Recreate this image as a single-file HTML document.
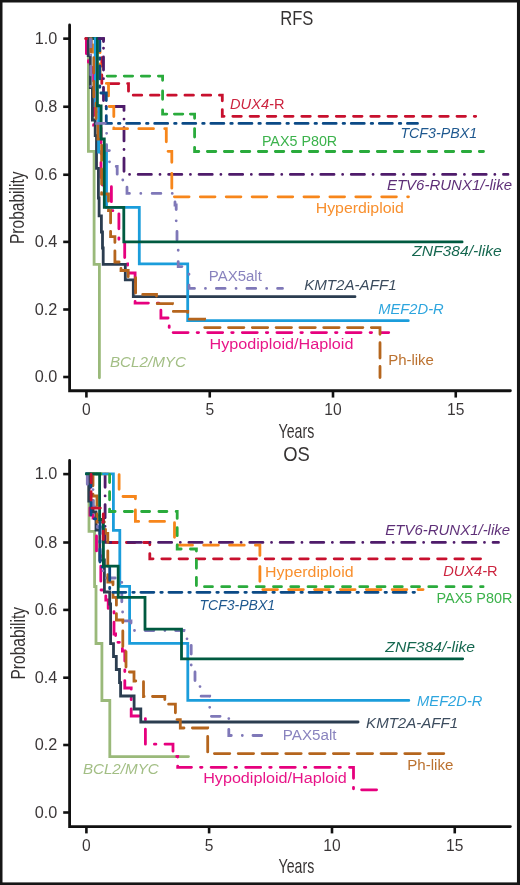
<!DOCTYPE html>
<html><head><meta charset="utf-8"><style>
html,body{margin:0;padding:0;background:#fff;}
body{width:520px;height:885px;overflow:hidden;}
svg{display:block;will-change:transform;}
text{font-family:"Liberation Sans", sans-serif;}
</style></head><body>
<svg width="520" height="885" viewBox="0 0 520 885">
<rect x="0" y="0" width="520" height="885" fill="#fff"/>

<text x="280.2" y="25.2" font-size="20.2" fill="#231f20" fill-opacity="0.92" textLength="33.2" lengthAdjust="spacingAndGlyphs">RFS</text>
<text x="283.2" y="461" font-size="20.2" fill="#231f20" fill-opacity="0.92" textLength="26.6" lengthAdjust="spacingAndGlyphs">OS</text>
<text transform="translate(23.8,244) rotate(-90)" font-size="20.8" fill="#231f20" fill-opacity="0.92" textLength="72.5" lengthAdjust="spacingAndGlyphs">Probability</text>
<text transform="translate(24.9,679.5) rotate(-90)" font-size="20.8" fill="#231f20" fill-opacity="0.92" textLength="72.5" lengthAdjust="spacingAndGlyphs">Probability</text>
<text x="278.6" y="438.4" font-size="20.4" fill="#231f20" fill-opacity="0.92" textLength="35.6" lengthAdjust="spacingAndGlyphs">Years</text>
<text x="278.6" y="872.9" font-size="20.4" fill="#231f20" fill-opacity="0.92" textLength="35.6" lengthAdjust="spacingAndGlyphs">Years</text>
<path d="M69.6,25.0 V390.75 H510.4" stroke="#111" stroke-width="2.8" fill="none" stroke-linejoin="miter" stroke-linecap="round"/>
<path d="M63.2,38.65 H69.6" stroke="#111" stroke-width="2.6"/>
<text x="57.3" y="43.6" font-size="15.8" fill="#231f20" fill-opacity="0.9" text-anchor="end" textLength="22.6" lengthAdjust="spacingAndGlyphs">1.0</text>
<path d="M63.2,106.75 H69.6" stroke="#111" stroke-width="2.6"/>
<text x="57.3" y="111.8" font-size="15.8" fill="#231f20" fill-opacity="0.9" text-anchor="end" textLength="22.6" lengthAdjust="spacingAndGlyphs">0.8</text>
<path d="M63.2,174.75 H69.6" stroke="#111" stroke-width="2.6"/>
<text x="57.3" y="179.8" font-size="15.8" fill="#231f20" fill-opacity="0.9" text-anchor="end" textLength="22.6" lengthAdjust="spacingAndGlyphs">0.6</text>
<path d="M63.2,241.9 H69.6" stroke="#111" stroke-width="2.6"/>
<text x="57.3" y="246.9" font-size="15.8" fill="#231f20" fill-opacity="0.9" text-anchor="end" textLength="22.6" lengthAdjust="spacingAndGlyphs">0.4</text>
<path d="M63.2,309.5 H69.6" stroke="#111" stroke-width="2.6"/>
<text x="57.3" y="314.5" font-size="15.8" fill="#231f20" fill-opacity="0.9" text-anchor="end" textLength="22.6" lengthAdjust="spacingAndGlyphs">0.2</text>
<path d="M63.2,377.0 H69.6" stroke="#111" stroke-width="2.6"/>
<text x="57.3" y="382.0" font-size="15.8" fill="#231f20" fill-opacity="0.9" text-anchor="end" textLength="22.6" lengthAdjust="spacingAndGlyphs">0.0</text>
<path d="M86.4,390.75 V397.55" stroke="#111" stroke-width="2.6"/>
<text x="86.4" y="414.6" font-size="15.6" fill="#231f20" fill-opacity="0.9" text-anchor="middle">0</text>
<path d="M209.75,390.75 V397.55" stroke="#111" stroke-width="2.6"/>
<text x="209.75" y="414.6" font-size="15.6" fill="#231f20" fill-opacity="0.9" text-anchor="middle">5</text>
<path d="M333.0,390.75 V397.55" stroke="#111" stroke-width="2.6"/>
<text x="333.0" y="414.6" font-size="15.6" fill="#231f20" fill-opacity="0.9" text-anchor="middle">10</text>
<path d="M455.75,390.75 V397.55" stroke="#111" stroke-width="2.6"/>
<text x="455.75" y="414.6" font-size="15.6" fill="#231f20" fill-opacity="0.9" text-anchor="middle">15</text>
<path d="M69.6,460.5 V826.6 H510.4" stroke="#111" stroke-width="2.8" fill="none" stroke-linejoin="miter" stroke-linecap="round"/>
<path d="M63.2,474.1 H69.6" stroke="#111" stroke-width="2.6"/>
<text x="57.3" y="479.1" font-size="15.8" fill="#231f20" fill-opacity="0.9" text-anchor="end" textLength="22.6" lengthAdjust="spacingAndGlyphs">1.0</text>
<path d="M63.2,542.5 H69.6" stroke="#111" stroke-width="2.6"/>
<text x="57.3" y="547.5" font-size="15.8" fill="#231f20" fill-opacity="0.9" text-anchor="end" textLength="22.6" lengthAdjust="spacingAndGlyphs">0.8</text>
<path d="M63.2,609.9 H69.6" stroke="#111" stroke-width="2.6"/>
<text x="57.3" y="614.9" font-size="15.8" fill="#231f20" fill-opacity="0.9" text-anchor="end" textLength="22.6" lengthAdjust="spacingAndGlyphs">0.6</text>
<path d="M63.2,677.7 H69.6" stroke="#111" stroke-width="2.6"/>
<text x="57.3" y="682.7" font-size="15.8" fill="#231f20" fill-opacity="0.9" text-anchor="end" textLength="22.6" lengthAdjust="spacingAndGlyphs">0.4</text>
<path d="M63.2,745.0 H69.6" stroke="#111" stroke-width="2.6"/>
<text x="57.3" y="750.0" font-size="15.8" fill="#231f20" fill-opacity="0.9" text-anchor="end" textLength="22.6" lengthAdjust="spacingAndGlyphs">0.2</text>
<path d="M63.2,812.5 H69.6" stroke="#111" stroke-width="2.6"/>
<text x="57.3" y="817.5" font-size="15.8" fill="#231f20" fill-opacity="0.9" text-anchor="end" textLength="22.6" lengthAdjust="spacingAndGlyphs">0.0</text>
<path d="M86.4,826.6 V833.4" stroke="#111" stroke-width="2.6"/>
<text x="86.4" y="850.6" font-size="15.6" fill="#231f20" fill-opacity="0.9" text-anchor="middle">0</text>
<path d="M209.1,826.6 V833.4" stroke="#111" stroke-width="2.6"/>
<text x="209.1" y="850.6" font-size="15.6" fill="#231f20" fill-opacity="0.9" text-anchor="middle">5</text>
<path d="M332.0,826.6 V833.4" stroke="#111" stroke-width="2.6"/>
<text x="332.0" y="850.6" font-size="15.6" fill="#231f20" fill-opacity="0.9" text-anchor="middle">10</text>
<path d="M454.75,826.6 V833.4" stroke="#111" stroke-width="2.6"/>
<text x="454.75" y="850.6" font-size="15.6" fill="#231f20" fill-opacity="0.9" text-anchor="middle">15</text>
<g fill="none" stroke-width="2.8" stroke-linejoin="miter">
<path d="M86.4,38.7 H88.4" stroke="#9ab97a" stroke-linecap="round"/>
<path d="M86.40,38.70L94.77,38.70" stroke="#c8102e" stroke-linecap="round"/>
<path d="M91.24,38.70L103.50,38.70" stroke="#4f1c6b" stroke-linecap="round"/>
<path d="M86.40,38.70L88.01,38.70" stroke="#f7861b" stroke-linecap="round"/>
<path d="M86.4,38.7 H88.2" stroke="#2b3d50" stroke-linecap="round"/>
<path d="M86.4,38.7 H95.2" stroke="#1b9ddb" stroke-linecap="round"/>
<path d="M86.92,38.70L90.80,38.70" stroke="#7f78b8" stroke-linecap="round"/>
<path d="M89.00,38.70L91.20,38.70" stroke="#b5651d" stroke-linecap="round"/>
<path d="M90.81,38.70L92.31,38.70M98.98,38.70L99.80,38.70" stroke="#0b4a86" stroke-linecap="round"/>
<path d="M86.4,38.7 H97.4" stroke="#005a40" stroke-linecap="round"/>
<path d="M88.4,38.70 L88.4,151.3 L94.1,151.3 L94.1,264.3 L99.4,264.3 L99.4,377.8" stroke="#9ab97a" stroke-linecap="round"/>
<path d="M101.80,57.66L101.80,66.16M101.80,74.90L101.80,83.40M110.34,83.60L118.84,83.60M127.59,83.60L128.50,83.60L128.50,91.19M133.23,95.20L141.73,95.20M150.47,95.20L158.97,95.20M167.71,95.20L176.21,95.20M184.96,95.20L193.46,95.20M202.20,95.20L210.70,95.20M219.44,95.20L222.30,95.20L222.30,100.84M222.30,109.59L222.30,116.30L224.09,116.30M232.83,116.30L241.33,116.30M250.07,116.30L258.57,116.30M267.32,116.30L275.82,116.30M284.56,116.30L293.06,116.30M301.80,116.30L310.30,116.30M319.04,116.30L327.54,116.30M336.29,116.30L344.79,116.30M353.53,116.30L362.03,116.30M370.77,116.30L379.27,116.30M388.02,116.30L396.52,116.30M405.26,116.30L413.76,116.30M422.50,116.30L431.00,116.30M439.75,116.30L448.25,116.30M456.99,116.30L465.49,116.30M474.23,116.30L475.70,116.30" stroke="#c8102e" stroke-linecap="round"/>
<path d="M103.50,38.70L103.50,39.64M103.50,48.26h0.01M103.50,56.88L103.50,70.08M103.50,78.70h0.01M103.50,87.32L103.50,100.52M106.14,106.50h0.01M114.76,106.50L124.00,106.50L124.00,110.46M124.00,119.08h0.01M124.00,127.70L124.00,140.90M124.00,149.52h0.01M124.00,158.14L124.00,171.34M129.56,174.40h0.01M138.18,174.40L151.38,174.40M160.00,174.40h0.01M168.62,174.40L181.82,174.40M190.44,174.40h0.01M199.06,174.40L212.26,174.40M220.88,174.40h0.01M229.50,174.40L242.70,174.40M251.32,174.40h0.01M259.94,174.40L273.14,174.40M281.76,174.40h0.01M290.38,174.40L303.58,174.40M312.20,174.40h0.01M320.82,174.40L334.02,174.40M342.64,174.40h0.01M351.26,174.40L364.46,174.40M373.08,174.40h0.01M381.70,174.40L394.90,174.40M403.52,174.40h0.01M412.14,174.40L425.34,174.40M433.96,174.40h0.01M442.58,174.40L455.78,174.40M464.40,174.40h0.01M473.02,174.40L486.22,174.40M494.84,174.40h0.01M503.46,174.40L508.00,174.40" stroke="#4f1c6b" stroke-linecap="round"/>
<path d="M93.00,44.93L93.00,52.00L100.00,52.00L100.00,52.63M100.00,63.84L100.00,78.54M106.36,83.40L108.50,83.40L108.50,95.96M109.18,106.50L113.80,106.50L113.80,116.58M113.80,127.80L113.80,128.70L127.60,128.70M138.81,128.70L153.51,128.70M164.73,128.70L166.30,128.70L166.30,141.83M168.05,151.30L171.80,151.30L171.80,162.25M171.80,173.46L171.80,188.16M174.38,196.80L189.08,196.80M200.30,196.80L215.00,196.80M226.21,196.80L240.91,196.80M252.13,196.80L266.83,196.80M278.05,196.80L292.75,196.80M303.97,196.80L318.67,196.80M329.88,196.80L344.58,196.80M355.80,196.80L370.50,196.80M381.72,196.80L396.42,196.80M407.63,196.80L408.50,196.80" stroke="#f7861b" stroke-linecap="round"/>
<path d="M86.40,38.70L86.40,53.70M88.40,60.70L88.40,62.20M92.40,67.30L92.40,72.00L93.60,72.00L93.60,81.10M93.60,90.10L93.60,91.60M93.60,100.70L93.60,115.70M93.60,124.70L93.60,125.00L94.80,125.00M101.00,127.90L101.00,142.90M101.00,151.90L101.00,153.40M101.00,162.50L101.00,177.50M102.50,185.00L104.00,185.00M111.40,186.70L111.40,201.70M111.40,210.70L112.90,210.70M118.90,213.80L118.90,228.80M118.90,237.80L118.90,239.30M124.70,242.60L124.70,257.60M127.30,264.00L127.60,264.00L127.60,265.20M128.90,273.00L135.10,273.00L135.10,281.80M135.10,290.80L135.10,292.30M135.10,301.40L135.10,303.10L148.40,303.10M157.40,303.10L158.90,303.10M160.90,310.20L160.90,318.00L168.10,318.00M169.20,325.90L169.20,327.40M173.10,332.60L188.10,332.60M197.10,332.60L198.60,332.60M207.70,332.60L222.70,332.60M231.70,332.60L233.20,332.60M242.30,332.60L257.30,332.60M266.30,332.60L267.80,332.60M276.90,332.60L291.90,332.60M300.90,332.60L302.40,332.60M311.50,332.60L326.50,332.60M335.50,332.60L337.00,332.60M346.10,332.60L361.10,332.60M370.10,332.60L371.60,332.60M380.70,332.60L388.75,332.60" stroke="#e6007e" stroke-linecap="round"/>
<path d="M88.2,38.70 L88.2,55.5 L90.3,55.5 L90.3,87.5 L92.4,87.5 L92.4,120.0 L95.2,120.0 L95.2,135.7 L96.5,135.7 L96.5,168.4 L98.4,168.4 L98.4,198.0 L99.1,198.0 L99.1,215.8 L101.4,215.8 L101.4,232.0 L102.5,232.0 L102.5,248.0 L103.2,248.0 L103.2,264.3 L125.3,264.3 L125.3,279.9 L133.3,279.9 L133.3,296.7 L355.0,296.7" stroke="#2b3d50" stroke-linecap="round"/>
<path d="M95.2,38.70 L95.2,105.5 L98.6,105.5 L98.6,152.0 L106.5,152.0 L106.5,207.3 L139.3,207.3 L139.3,263.8 L187.7,263.8 L187.7,320.7 L408.3,320.7" stroke="#1b9ddb" stroke-linecap="round"/>
<path d="M107.18,76.10L115.58,76.10M124.25,76.10L132.65,76.10M141.32,76.10L149.73,76.10M158.40,76.10L162.60,76.10L162.60,80.30M162.60,90.90L162.60,99.30M162.60,109.90L162.60,114.10L166.80,114.10M174.40,114.10L182.80,114.10M190.40,114.10L194.60,114.10L194.60,118.30M194.60,128.60L194.60,137.00M194.60,147.30L194.60,151.50L198.80,151.50M207.39,151.50L215.79,151.50M224.39,151.50L232.79,151.50M241.38,151.50L249.78,151.50M258.38,151.50L266.78,151.50M275.37,151.50L283.77,151.50M292.36,151.50L300.76,151.50M309.36,151.50L317.76,151.50M326.35,151.50L334.75,151.50M343.35,151.50L351.75,151.50M360.34,151.50L368.74,151.50M377.34,151.50L385.74,151.50M394.33,151.50L402.73,151.50M411.32,151.50L419.72,151.50M428.32,151.50L436.72,151.50M445.31,151.50L453.71,151.50M462.31,151.50L470.71,151.50M479.30,151.50L483.50,151.50" stroke="#2aab3c" stroke-linecap="round"/>
<path d="M90.80,38.70L90.80,43.52M90.80,54.88h0.01M90.80,66.24L90.80,74.94M90.80,86.30h0.01M96.60,91.86L96.60,100.56M96.60,111.92h0.01M106.60,133.34h0.01M106.60,144.70L106.60,150.60L109.40,150.60M109.50,161.86h0.01M116.22,166.50L117.20,166.50L117.20,174.22M122.78,180.00h0.01M127.00,187.14L127.00,193.40L129.44,193.40M140.80,193.40h0.01M152.16,193.40L160.86,193.40M172.22,193.40h0.01M175.00,201.98L175.00,205.00L176.20,205.00L176.20,209.48M176.20,220.84h0.01M177.00,231.40L177.00,240.10M178.20,250.26h0.01M178.20,261.62L178.20,266.60L181.92,266.60M189.00,274.25h0.01M189.00,285.20L189.00,288.40L194.50,288.40M205.45,288.40h0.01M216.40,288.40L225.10,288.40M236.05,288.40h0.01M247.00,288.40L255.70,288.40M266.65,288.40h0.01M277.60,288.40L282.50,288.40" stroke="#7f78b8" stroke-linecap="round"/>
<path d="M91.20,38.70L91.20,51.90M93.80,57.70L93.80,73.10M93.80,81.50L93.80,96.90M96.00,103.10L96.00,118.50M98.00,124.90L98.00,139.00L99.30,139.00M101.60,145.10L101.60,160.50M101.60,168.90L101.60,184.30M101.60,192.70L101.60,194.00L108.50,194.00L108.50,201.20M108.50,209.60L108.50,210.70L110.60,210.70L110.60,222.90M110.60,231.30L110.60,236.60L114.90,236.60L114.90,242.40M114.90,250.80L114.90,262.00L119.10,262.00M121.00,268.50L121.00,270.50L128.20,270.50L128.20,276.70M135.60,277.70L135.60,293.10M142.70,294.40L156.50,294.40L156.50,296.00M157.20,303.70L172.50,303.70L172.50,303.80M173.30,311.40L187.70,311.40L187.70,312.40M189.30,319.20L204.60,319.20L204.60,319.30M204.70,327.60L220.10,327.60M228.50,327.60L243.90,327.60M252.30,327.60L267.70,327.60M276.10,327.60L291.50,327.60M299.90,327.60L315.30,327.60M323.70,327.60L339.10,327.60M347.50,327.60L362.90,327.60M371.30,327.60L380.00,327.60L380.00,334.30M380.00,342.70L380.00,358.10M380.00,366.50L380.00,377.50" stroke="#b5651d" stroke-linecap="round"/>
<path d="M99.80,38.70L99.80,50.88M99.80,57.79L99.80,59.29M99.80,65.96L99.80,78.96M99.80,85.87L99.80,87.37M100.85,93.00L106.30,93.00L106.30,100.55M106.30,107.46L106.30,108.96M106.30,115.63L106.30,123.40L111.53,123.40M118.44,123.40L119.94,123.40M126.61,123.40L139.61,123.40M146.52,123.40L148.02,123.40M154.69,123.40L167.69,123.40M174.60,123.40L176.10,123.40M182.77,123.40L195.77,123.40M202.68,123.40L204.18,123.40M210.86,123.40L223.86,123.40M230.77,123.40L232.27,123.40M238.94,123.40L251.94,123.40M258.85,123.40L260.35,123.40M267.02,123.40L280.02,123.40M286.93,123.40L288.43,123.40M295.10,123.40L308.10,123.40M315.01,123.40L316.51,123.40M323.18,123.40L336.18,123.40M343.09,123.40L344.59,123.40M351.27,123.40L364.27,123.40M371.18,123.40L372.68,123.40M379.35,123.40L392.35,123.40M399.26,123.40L400.76,123.40M407.43,123.40L417.50,123.40" stroke="#0b4a86" stroke-linecap="round"/>
<path d="M97.4,38.70 L97.4,105.8 L101.1,105.8 L101.1,139.0 L104.3,139.0 L104.3,207.3 L123.8,207.3 L123.8,241.9 L462.1,241.9" stroke="#005a40" stroke-linecap="round"/>
<path d="M86.4,473.9 H89 V531.3 H94.6 V586.5 H96 V643.5 H101.9 V700.5 H109.8 V756.6 H188.5" stroke="#9ab97a" stroke-linecap="round"/>
<path d="M109.16,542.50L117.66,542.50M126.40,542.50L134.90,542.50M143.63,542.50L149.80,542.50L149.80,544.83M149.80,553.57L149.80,558.80L153.07,558.80M161.81,558.80L170.31,558.80M179.05,558.80L187.55,558.80M196.29,558.80L204.79,558.80M213.52,558.80L222.02,558.80M230.76,558.80L239.26,558.80M248.00,558.80L256.50,558.80M265.24,558.80L273.74,558.80M282.48,558.80L290.98,558.80M299.71,558.80L308.21,558.80M316.95,558.80L325.45,558.80M334.19,558.80L342.69,558.80M351.43,558.80L359.93,558.80M368.67,558.80L377.17,558.80M385.90,558.80L394.40,558.80M403.14,558.80L411.64,558.80M420.38,558.80L428.88,558.80M437.62,558.80L446.12,558.80M454.86,558.80L463.36,558.80M472.09,558.80L480.59,558.80" stroke="#c8102e" stroke-linecap="round"/>
<path d="M86.40,473.90L88.11,473.90M96.72,473.90h0.01M105.10,474.13L105.10,487.33M105.10,495.93h0.01M105.10,504.54L105.10,517.74M105.10,526.35h0.01M105.10,534.96L105.10,542.40L110.86,542.40M119.47,542.40h0.01M128.07,542.40L141.27,542.40M149.88,542.40h0.01M158.49,542.40L171.69,542.40M180.30,542.40h0.01M188.91,542.40L202.11,542.40M210.71,542.40h0.01M219.32,542.40L232.52,542.40M241.13,542.40h0.01M249.74,542.40L262.94,542.40M271.55,542.40h0.01M280.15,542.40L293.35,542.40M301.96,542.40h0.01M310.57,542.40L323.77,542.40M332.38,542.40h0.01M340.99,542.40L354.19,542.40M362.79,542.40h0.01M371.40,542.40L384.60,542.40M393.21,542.40h0.01M401.82,542.40L415.02,542.40M423.63,542.40h0.01M432.23,542.40L445.43,542.40M454.04,542.40h0.01M462.65,542.40L475.85,542.40M484.46,542.40h0.01M493.07,542.40L498.50,542.40" stroke="#4f1c6b" stroke-linecap="round"/>
<path d="M93.86,473.90L108.56,473.90M119.10,474.53L119.10,489.23M123.00,496.50L135.40,496.50L135.40,498.80M135.40,509.98L135.40,521.40L138.68,521.40M149.86,521.40L164.56,521.40M174.50,522.63L174.50,537.33M177.80,545.20L192.50,545.20M203.68,545.20L218.38,545.20M229.55,545.20L244.25,545.20M255.43,545.20L259.90,545.20L259.90,555.43M259.90,566.61L259.90,581.31M262.78,589.60L277.48,589.60M288.65,589.60L303.35,589.60M314.53,589.60L329.23,589.60M340.40,589.60L355.10,589.60M366.28,589.60L380.98,589.60M392.15,589.60L406.85,589.60M418.03,589.60L423.10,589.60" stroke="#f7861b" stroke-linecap="round"/>
<path d="M89.30,473.90L90.00,473.90L90.00,488.20M90.00,497.20L90.00,498.70M90.00,507.80L90.00,515.00L93.00,515.00L93.00,518.00L94.80,518.00M96.50,525.30L96.50,526.80M96.50,535.90L96.50,550.90M100.80,555.60L100.80,557.10M100.80,566.20L100.80,581.20M101.00,590.00L102.50,590.00M105.80,595.80L105.80,600.00L108.20,600.00L108.20,608.40M114.00,611.60L114.00,613.10M114.00,622.20L114.00,634.00L115.60,634.00L115.60,635.60M117.90,642.30L119.40,642.30M122.40,648.40L122.40,651.00L124.80,651.00L124.80,661.00M124.80,670.00L124.80,671.50M124.80,680.60L124.80,688.00L131.20,688.00L131.20,689.20M131.20,698.20L131.20,699.70M131.20,708.80L131.20,716.00L139.00,716.00M145.40,718.60L145.40,720.10M145.40,729.20L145.40,744.20M154.40,744.20L155.90,744.20M165.00,744.20L173.00,744.20L173.00,751.20M176.70,756.50L177.70,756.50L177.70,757.00M177.70,766.10L177.70,767.30L191.50,767.30M200.50,767.30L202.00,767.30M211.10,767.30L226.10,767.30M235.10,767.30L236.60,767.30M245.70,767.30L260.70,767.30M269.70,767.30L271.20,767.30M280.30,767.30L295.30,767.30M304.30,767.30L305.80,767.30M314.90,767.30L329.90,767.30M338.90,767.30L340.40,767.30M349.50,767.30L353.50,767.30L353.50,778.30M353.50,787.30L353.50,788.80M361.60,789.80L376.60,789.80" stroke="#e6007e" stroke-linecap="round"/>
<path d="M86.4,473.9 H88.8 V501 H93 V512 H96 V530 H99.8 V560 H104.4 V592 H109.7 V604 H110.6 V643.6 H113.5 V656.5 H116.3 V669.5 H119.5 V682.6 H120.6 V696 H134.1 V709 H140.8 V722 H358.1" stroke="#2b3d50" stroke-linecap="round"/>
<path d="M86.4,473.9 H113.4 V530.4 H119.8 V586.3 H129.6 V643.4 H187.8 V700.4 H408.8" stroke="#1b9ddb" stroke-linecap="round"/>
<path d="M92.97,473.90L100.97,473.90M109.60,474.52L109.60,482.52M109.60,491.77L109.60,499.77M109.60,509.03L109.60,511.50L115.13,511.50M124.38,511.50L132.38,511.50M141.64,511.50L149.64,511.50M158.90,511.50L166.90,511.50M176.15,511.50L177.20,511.50L177.20,518.45M177.20,527.71L177.20,535.71M177.20,544.96L177.20,549.00L181.16,549.00M190.42,549.00L196.40,549.00L196.40,551.01M196.40,560.27L196.40,568.27M196.40,577.52L196.40,585.52M204.48,586.70L212.48,586.70M221.73,586.70L229.73,586.70M238.99,586.70L246.99,586.70M256.25,586.70L264.25,586.70M273.50,586.70L281.50,586.70M290.75,586.70L298.75,586.70M308.01,586.70L316.01,586.70M325.26,586.70L333.26,586.70M342.52,586.70L350.52,586.70M359.77,586.70L367.77,586.70M377.03,586.70L385.03,586.70M394.29,586.70L402.28,586.70M411.54,586.70L419.54,586.70M428.79,586.70L436.79,586.70M446.05,586.70L454.05,586.70M463.30,586.70L471.30,586.70M480.56,586.70L483.10,586.70" stroke="#2aab3c" stroke-linecap="round"/>
<path d="M87.30,475.60L87.30,484.30M93.00,489.60h0.01M93.00,500.30L93.00,507.00L95.00,507.00M97.50,515.50h0.01M97.50,526.20L97.50,527.00L103.00,527.00L103.00,529.40M103.00,540.40h0.01M103.00,551.10L103.00,559.80M103.00,570.80h0.01M106.50,578.00L115.20,578.00M121.80,582.40h0.01M121.80,593.10L121.80,601.80M122.60,612.00h0.01M124.40,620.90L131.00,620.90L131.00,623.00M134.50,630.50h0.01M145.20,630.50L153.90,630.50M164.90,630.50h0.01M175.60,630.50L184.00,630.50L184.00,630.80M187.00,638.80h0.01M191.20,645.30L191.20,654.00M191.20,665.00h0.01M195.00,671.90L195.00,680.60M200.00,686.60h0.01M201.10,696.20L209.70,696.20L209.70,696.30M209.70,707.30h0.01M211.40,716.30L220.10,716.30M228.80,718.60h0.01M228.80,729.30L228.80,735.50L231.30,735.50M242.30,735.50h0.01M253.00,735.50L261.70,735.50" stroke="#7f78b8" stroke-linecap="round"/>
<path d="M89.50,473.90L93.00,473.90L93.00,485.80M93.00,494.20L93.00,496.00L97.00,496.00L97.00,505.60M97.00,514.00L97.00,522.00L104.40,522.00M105.50,529.30L105.50,533.30L107.80,533.30L107.80,542.40M107.80,550.80L107.80,566.20M107.80,574.60L107.80,582.00L113.00,582.00L113.00,584.80M113.00,593.20L113.00,597.30L116.40,597.30L116.40,605.20M116.40,613.60L116.40,620.00L122.80,620.00L122.80,622.60M122.80,631.00L122.80,646.40M126.00,651.60L126.00,667.00M129.40,672.00L134.00,672.00L134.00,681.00L135.80,681.00M143.50,681.70L143.50,696.50L144.10,696.50M152.50,696.50L164.80,696.50L164.80,699.60M168.60,704.20L175.40,704.20L175.40,712.80M177.00,719.60L180.30,719.60L180.30,728.00L184.00,728.00M192.40,728.00L207.70,728.00L207.70,728.10M207.70,736.50L207.70,751.90M214.40,753.60L229.80,753.60M238.20,753.60L253.60,753.60M262.00,753.60L277.40,753.60M285.80,753.60L301.20,753.60M309.60,753.60L325.00,753.60M333.40,753.60L348.80,753.60M357.20,753.60L372.60,753.60M381.00,753.60L396.40,753.60M404.80,753.60L420.20,753.60M428.60,753.60L443.80,753.60" stroke="#b5651d" stroke-linecap="round"/>
<path d="M91.00,474.03L91.00,487.03M91.00,493.94L91.00,495.44M91.00,502.06L91.00,515.06M94.16,518.80L95.66,518.80M100.00,521.09L100.00,534.09M100.00,540.99L100.00,542.49M100.00,549.11L100.00,562.11M102.01,567.00L103.51,567.00M109.70,567.43L109.70,580.43M109.70,587.33L109.70,588.83M112.86,592.30L125.86,592.30M132.76,592.30L134.26,592.30M140.88,592.30L153.88,592.30M160.79,592.30L162.29,592.30M168.91,592.30L181.91,592.30M188.81,592.30L190.31,592.30M196.94,592.30L209.94,592.30M216.84,592.30L218.34,592.30M224.96,592.30L237.96,592.30M244.86,592.30L246.36,592.30M252.99,592.30L265.99,592.30M272.88,592.30L274.38,592.30M281.01,592.30L294.01,592.30M300.91,592.30L302.41,592.30M309.04,592.30L322.04,592.30M328.94,592.30L330.44,592.30M337.06,592.30L350.06,592.30M356.96,592.30L358.46,592.30M365.09,592.30L378.09,592.30M384.99,592.30L386.49,592.30M393.11,592.30L406.11,592.30M413.01,592.30L414.51,592.30" stroke="#0b4a86" stroke-linecap="round"/>
<path d="M86.4,473.9 H99.6 V519.5 H103.4 V566.2 H118.2 V597.3 H145 V629.2 H181.5 V658.8 H462.7" stroke="#005a40" stroke-linecap="round"/>
<path d="M96.60,123.28L96.60,123.30L105.28,123.30" stroke="#7f78b8" stroke-linecap="round"/>
<path d="M91.10,474.37L91.10,482.87M91.10,491.61L91.10,500.11M91.84,508.10L100.34,508.10M103.30,513.88L103.30,522.38M103.30,531.12L103.30,539.62" stroke="#c8102e" stroke-linecap="round"/>
<path d="M85.6,38.7 H86.6" stroke="#c8102e" stroke-linecap="round"/>
<path d="M90.85,38.2 V48" stroke="#7f78b8" stroke-linecap="butt"/>
<path d="M98.9,38.7 H103.5 V41.6" stroke="#4f1c6b" stroke-linecap="round"/>
</g>
<text x="230.0" y="109.1" font-size="13.80" fill="#c8102e" fill-opacity="0.92" textLength="54.5" lengthAdjust="spacingAndGlyphs"><tspan font-style="italic">DUX4-</tspan><tspan font-style="normal">R</tspan></text>
<text x="400.4" y="138.3" font-size="13.80" fill="#0b4a86" fill-opacity="0.92" textLength="76.7" lengthAdjust="spacingAndGlyphs"><tspan font-style="italic">TCF3-PBX1</tspan></text>
<text x="261.9" y="146.3" font-size="14.63" fill="#2aab3c" fill-opacity="0.92" textLength="75.3" lengthAdjust="spacingAndGlyphs"><tspan font-style="normal">PAX5 P80R</tspan></text>
<text x="386.9" y="189.8" font-size="14.21" fill="#4f1c6b" fill-opacity="0.92" textLength="125.1" lengthAdjust="spacingAndGlyphs"><tspan font-style="italic">ETV6-RUNX1/-like</tspan></text>
<text x="315.7" y="212.5" font-size="14.42" fill="#f7861b" fill-opacity="0.92" textLength="88.2" lengthAdjust="spacingAndGlyphs"><tspan font-style="normal">Hyperdiploid</tspan></text>
<text x="412.2" y="256" font-size="14.21" fill="#005a40" fill-opacity="0.92" textLength="89.6" lengthAdjust="spacingAndGlyphs"><tspan font-style="italic">ZNF384/-like</tspan></text>
<text x="208.8" y="280.8" font-size="14.42" fill="#7f78b8" fill-opacity="0.92" textLength="53.0" lengthAdjust="spacingAndGlyphs"><tspan font-style="normal">PAX5alt</tspan></text>
<text x="304.2" y="290" font-size="14.42" fill="#2b3d50" fill-opacity="0.92" textLength="92.4" lengthAdjust="spacingAndGlyphs"><tspan font-style="italic">KMT2A-AFF1</tspan></text>
<text x="378.2" y="314.1" font-size="14.21" fill="#1b9ddb" fill-opacity="0.92" textLength="65.5" lengthAdjust="spacingAndGlyphs"><tspan font-style="italic">MEF2D-R</tspan></text>
<text x="209.5" y="348.5" font-size="14.42" fill="#e6007e" fill-opacity="0.92" textLength="143.9" lengthAdjust="spacingAndGlyphs"><tspan font-style="normal">Hypodiploid/Haploid</tspan></text>
<text x="388.15" y="364.5" font-size="14.42" fill="#b5651d" fill-opacity="0.92" textLength="45.8" lengthAdjust="spacingAndGlyphs"><tspan font-style="normal">Ph-like</tspan></text>
<text x="109.9" y="366.9" font-size="14.42" fill="#9ab97a" fill-opacity="0.92" textLength="76.1" lengthAdjust="spacingAndGlyphs"><tspan font-style="italic">BCL2/MYC</tspan></text>
<text x="385.29999999999995" y="534.9" font-size="14.21" fill="#4f1c6b" fill-opacity="0.92" textLength="124.8" lengthAdjust="spacingAndGlyphs"><tspan font-style="italic">ETV6-RUNX1/-like</tspan></text>
<text x="443.2" y="576" font-size="13.80" fill="#c8102e" fill-opacity="0.92" textLength="54.5" lengthAdjust="spacingAndGlyphs"><tspan font-style="italic">DUX4-</tspan><tspan font-style="normal">R</tspan></text>
<text x="265.09999999999997" y="577" font-size="14.42" fill="#f7861b" fill-opacity="0.92" textLength="88.5" lengthAdjust="spacingAndGlyphs"><tspan font-style="normal">Hyperdiploid</tspan></text>
<text x="436.5" y="602.9" font-size="14.63" fill="#2aab3c" fill-opacity="0.92" textLength="76.0" lengthAdjust="spacingAndGlyphs"><tspan font-style="normal">PAX5 P80R</tspan></text>
<text x="199.4" y="610.4" font-size="13.80" fill="#0b4a86" fill-opacity="0.92" textLength="75.8" lengthAdjust="spacingAndGlyphs"><tspan font-style="italic">TCF3-PBX1</tspan></text>
<text x="385.29999999999995" y="651.5" font-size="14.21" fill="#005a40" fill-opacity="0.92" textLength="89.8" lengthAdjust="spacingAndGlyphs"><tspan font-style="italic">ZNF384/-like</tspan></text>
<text x="417.09999999999997" y="705.9" font-size="14.21" fill="#1b9ddb" fill-opacity="0.92" textLength="65.3" lengthAdjust="spacingAndGlyphs"><tspan font-style="italic">MEF2D-R</tspan></text>
<text x="366.09999999999997" y="727.5" font-size="14.42" fill="#2b3d50" fill-opacity="0.92" textLength="92.0" lengthAdjust="spacingAndGlyphs"><tspan font-style="italic">KMT2A-AFF1</tspan></text>
<text x="282.79999999999995" y="740.4" font-size="14.42" fill="#7f78b8" fill-opacity="0.92" textLength="53.8" lengthAdjust="spacingAndGlyphs"><tspan font-style="normal">PAX5alt</tspan></text>
<text x="407.2" y="769.9" font-size="14.42" fill="#b5651d" fill-opacity="0.92" textLength="46.2" lengthAdjust="spacingAndGlyphs"><tspan font-style="normal">Ph-like</tspan></text>
<text x="203.20000000000002" y="783" font-size="14.42" fill="#e6007e" fill-opacity="0.92" textLength="143.6" lengthAdjust="spacingAndGlyphs"><tspan font-style="normal">Hypodiploid/Haploid</tspan></text>
<text x="82.9" y="774.3" font-size="14.42" fill="#9ab97a" fill-opacity="0.92" textLength="75.8" lengthAdjust="spacingAndGlyphs"><tspan font-style="italic">BCL2/MYC</tspan></text>
<rect x="0" y="0" width="520" height="2.5" fill="#161616"/>
<rect x="0" y="882.4" width="520" height="2.6" fill="#161616"/>
<rect x="0" y="0" width="2.5" height="885" fill="#161616"/>
<rect x="516.95" y="0" width="3.05" height="885" fill="#161616"/>
</svg>
</body></html>
